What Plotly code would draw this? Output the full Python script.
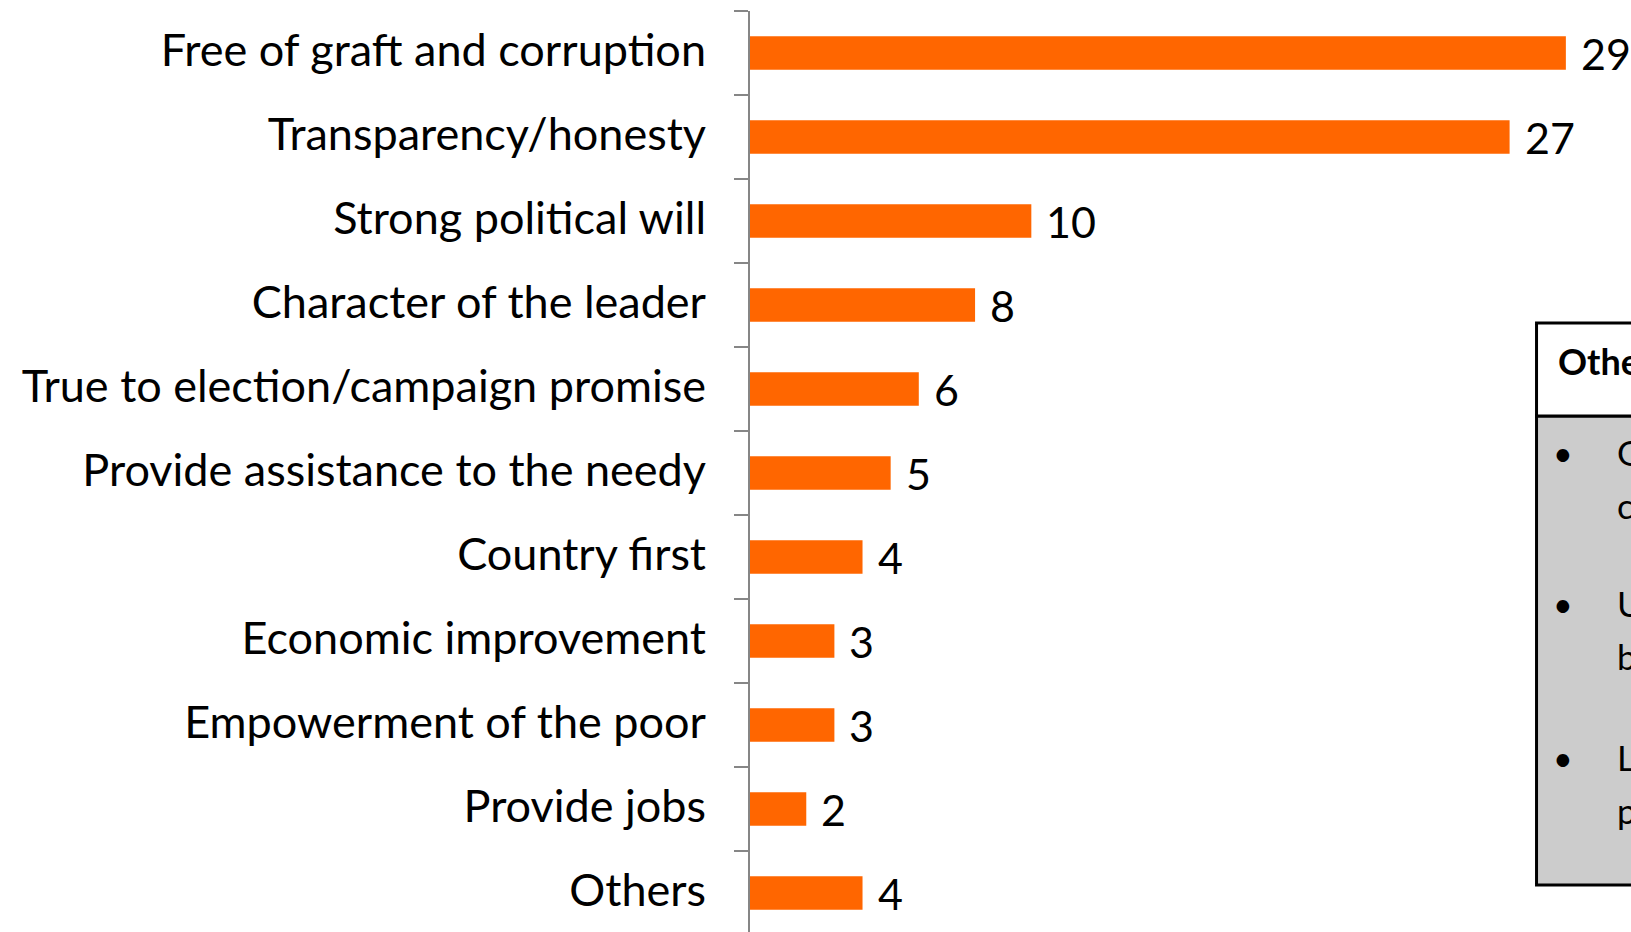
import plotly.graph_objects as go

# Reasons cited for the leader's qualities (percent of respondents)
categories = [
    "Free of graft and corruption",
    "Transparency/honesty",
    "Strong political will",
    "Character of the leader",
    "True to election/campaign promise",
    "Provide assistance to the needy",
    "Country first",
    "Economic improvement",
    "Empowerment of the poor",
    "Provide jobs",
    "Others",
]
values = [29, 27, 10, 8, 6, 5, 4, 3, 3, 2, 4]

others_title = "Others"
others_items = [
    ("God-fearing and", "compassionate"),
    ("Upholds the rule of law,", "brings peace and order"),
    ("Listens to the", "people"),
]

W, H = 1631, 932
ML, MR, MT, MB = 750, 36.5, 11, 0
PW, PH = W - ML - MR, H - MT - MB
ROW = 84.0  # pixels per category row

FONT = "Lato"
BAR = "#FF6600"
AXIS = "#868686"


def px_x(x):
    return (x - ML) / PW


def px_y(y):
    return 1 - (y - MT) / PH


fig = go.Figure()
fig.add_trace(go.Bar(
    x=values,
    y=categories,
    orientation="h",
    width=0.4,
    marker=dict(color=BAR, line=dict(width=0)),
    hoverinfo="skip",
))

# value labels to the right of each bar
for c, v in zip(categories, values):
    fig.add_annotation(
        x=v, y=c, xref="x", yref="y", text=str(v), showarrow=False,
        xanchor="left", yanchor="middle", xshift=13,
        font=dict(family=FONT, size=43, color="black"),
    )

# "Others" breakdown box on the right
box_l, box_r = 1537, 1760
head_t, head_b, body_b = 323, 416, 885
fig.add_shape(type="rect", xref="paper", yref="paper",
              x0=px_x(box_l), x1=px_x(box_r), y0=px_y(head_b), y1=px_y(body_b),
              fillcolor="#CCCCCC", line=dict(color="black", width=3), layer="above")
fig.add_shape(type="rect", xref="paper", yref="paper",
              x0=px_x(box_l), x1=px_x(box_r), y0=px_y(head_t), y1=px_y(head_b),
              fillcolor="white", line=dict(color="black", width=3), layer="above")
fig.add_annotation(x=px_x(1556), y=px_y(361), xref="paper", yref="paper",
                   text="<b>%s</b>" % others_title, showarrow=False,
                   xanchor="left", yanchor="middle",
                   font=dict(family=FONT, size=36, color="black"))
bullet_y = [452, 603, 757]
for (l1, l2), by in zip(others_items, bullet_y):
    fig.add_annotation(x=px_x(1563), y=px_y(by), xref="paper", yref="paper",
                       text="•", showarrow=False, xanchor="center", yanchor="middle",
                       font=dict(family=FONT, size=34, color="black"))
    fig.add_annotation(x=px_x(1616), y=px_y(by), xref="paper", yref="paper",
                       text=l1, showarrow=False, xanchor="left", yanchor="middle",
                       font=dict(family=FONT, size=35, color="black"))
    fig.add_annotation(x=px_x(1616), y=px_y(by + 53), xref="paper", yref="paper",
                       text=l2, showarrow=False, xanchor="left", yanchor="middle",
                       font=dict(family=FONT, size=35, color="black"))

n_rows = PH / ROW
fig.update_layout(
    width=W, height=H,
    margin=dict(l=ML, r=MR, t=MT, b=MB, pad=0),
    paper_bgcolor="white", plot_bgcolor="white",
    showlegend=False,
    xaxis=dict(range=[0, PW / 28.15], visible=False, fixedrange=True),
    yaxis=dict(
        type="category",
        categoryorder="array", categoryarray=categories,
        range=[-0.5 + n_rows, -0.5],
        showline=True, linecolor=AXIS, linewidth=2,
        ticks="outside", tickson="boundaries", ticklen=14,
        tickwidth=2, tickcolor=AXIS,
        ticklabelstandoff=33,
        ticklabelshift=3,
        showgrid=False, zeroline=False,
        tickfont=dict(family=FONT, size=45, color="black"),
        fixedrange=True,
    ),
)

fig.write_html("out.html")
